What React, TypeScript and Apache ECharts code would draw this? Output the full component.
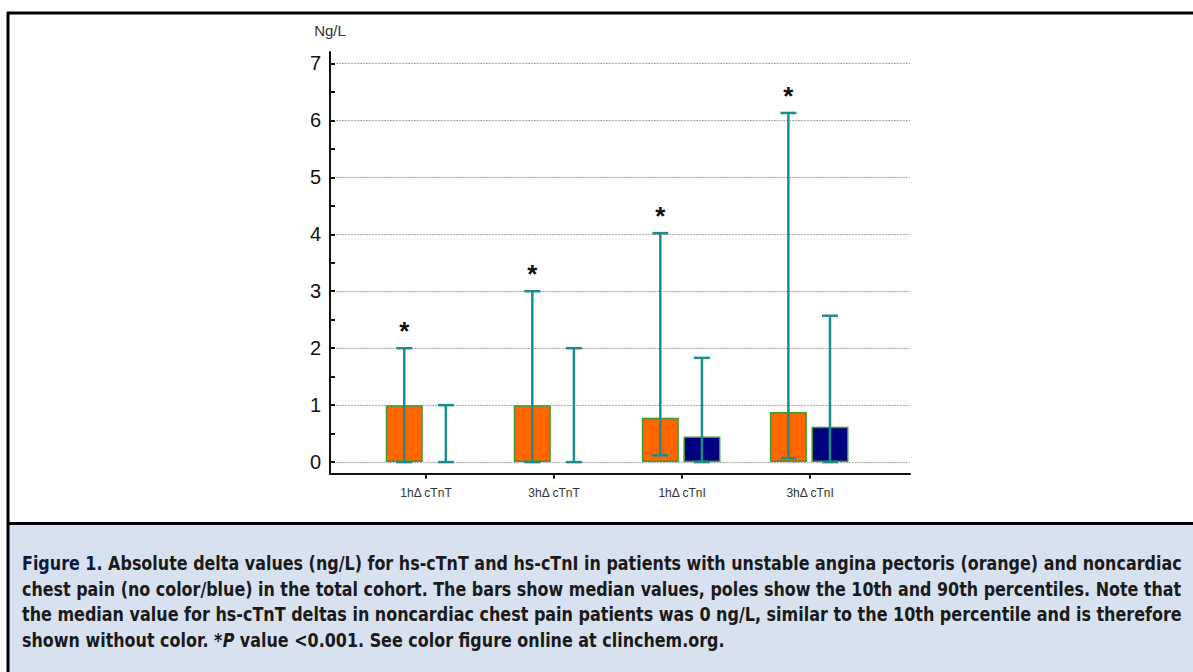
import React, { useEffect, useRef } from "react";
import * as echarts from "echarts";

// ---- data ----
const categories = ["1hΔ cTnT", "3hΔ cTnT", "1hΔ cTnI", "3hΔ cTnI"];
// unstable angina pectoris (orange)
const uapMedian = [1.0, 1.0, 0.78, 0.88];
const uapP10 = [0, 0, 0.12, 0.07];
const uapP90 = [2.0, 3.0, 4.02, 6.13];
// noncardiac chest pain (blue / no colour)
const ncpMedian = [0, 0, 0.45, 0.62];
const ncpP10 = [0, 0, 0, 0];
const ncpP90 = [1.0, 2.0, 1.83, 2.57];
const significant = [true, true, true, true];
const yTickLabels = [0, 1, 2, 3, 4, 5, 6, 7];
const yMinorTicks = [0, 0.5, 1, 1.5, 2, 2.5, 3, 3.5, 4, 4.5, 5, 5.5, 6, 6.5, 7];
const yName = "Ng/L";

const captionLines = [
  "{b|Figure 1.} Absolute delta values (ng/L) for hs-cTnT and hs-cTnI in patients with unstable angina pectoris (orange) and noncardiac",
  "chest pain (no color/blue) in the total cohort. The bars show median values, poles show the 10th and 90th percentiles. Note that",
  "the median value for hs-cTnT deltas in noncardiac chest pain patients was 0 ng/L, similar to the 10th percentile and is therefore",
  "shown without color. *{i|P} value <0.001. See color figure online at clinchem.org.",
];
const captionJustified = [true, true, true, false];

// category slot positions on the x value axis
const catPos = categories.map((_, i) => i + 0.75);
const uapOffset = -0.17;
const ncpOffset = 0.155;

export default function App() {
  const ref = useRef<HTMLDivElement>(null);
  useEffect(() => {
    document.body.style.margin = "0";
    const chart = echarts.init(ref.current!, undefined, { renderer: "svg" });
    const whiskerData: any[] = [];
    categories.forEach((_, i) => {
      whiskerData.push([catPos[i] + uapOffset, uapP10[i], uapP90[i], significant[i] ? 1 : 0]);
      whiskerData.push([catPos[i] + ncpOffset, ncpP10[i], ncpP90[i], 0]);
    });
    const teal = "#1f8c8c";
    const captionFamily = '"DejaVu Sans", sans-serif';
    const captionSize = 19;
    const captionWidth = 1161;
    // measure caption lines to mimic the justified condensed type
    const ctx = document.createElement("canvas").getContext("2d")!;
    ctx.font = `bold ${captionSize}px "DejaVu Sans"`;
    const widths = captionLines.map((t) => ctx.measureText(t.replace(/\{\w\|([^}]*)\}/g, "$1")).width);
    const baseScale = captionWidth / widths[0];
    const scales = captionLines.map((_, k) => (captionJustified[k] ? captionWidth / widths[k] : baseScale));

    chart.setOption({
      animation: false,
      grid: { left: 330, right: 283, top: 52, bottom: 198.5, containLabel: false },
      xAxis: {
        type: "value",
        min: 0,
        max: 4.53,
        axisLine: { show: true, onZero: false, lineStyle: { color: "#111", width: 2 } },
        axisTick: { show: true, length: 5, lineStyle: { color: "#111", width: 2 }, customValues: catPos },
        axisLabel: {
          customValues: catPos,
          formatter: (v: number) => categories[Math.round(v - 0.75)] ?? "",
          fontSize: 12,
          color: "#333",
          margin: 13,
          fontFamily: "Liberation Sans, sans-serif",
        },
        splitLine: { show: false },
      },
      yAxis: {
        type: "value",
        min: -0.2,
        max: 7.2,
        name: yName,
        nameLocation: "end",
        nameGap: 14,
        nameTextStyle: { fontSize: 15, color: "#333", align: "center", fontFamily: "Liberation Sans, sans-serif" },
        axisLine: { show: true, onZero: false, lineStyle: { color: "#111", width: 2 } },
        axisTick: { show: true, inside: true, length: 5, lineStyle: { color: "#111", width: 2 }, customValues: yMinorTicks },
        axisLabel: {
          customValues: yTickLabels,
          fontSize: 20,
          color: "#111",
          margin: 9,
          fontFamily: "Liberation Sans, sans-serif",
        },
        splitLine: { show: false },
      },
      series: [
        {
          name: "Unstable angina pectoris",
          type: "bar",
          barWidth: 37,
          barGap: "-100%",
          data: categories.map((_, i) => [catPos[i] + uapOffset, uapMedian[i]]),
          itemStyle: { color: "#ff6600", borderColor: "#3f9a2f", borderWidth: 1.5 },
          markLine: {
            silent: true,
            symbol: ["none", "none"],
            label: { show: false },
            lineStyle: { color: "#a8a8a8", width: 1, type: [2, 1] },
            data: yTickLabels.map((v) => ({ yAxis: v })),
            z: 0,
          },
          z: 2,
        },
        {
          name: "Noncardiac chest pain",
          type: "bar",
          barWidth: 37,
          barGap: "-100%",
          data: categories.map((_, i) => [catPos[i] + ncpOffset, ncpMedian[i] > 0 ? ncpMedian[i] : "-"]),
          itemStyle: { color: "#000080", borderColor: "#3f9a2f", borderWidth: 1.5 },
          z: 2,
        },
        {
          type: "custom",
          z: 5,
          encode: { x: 0, y: [1, 2] },
          data: whiskerData,
          renderItem: (params: any, api: any) => {
            const x = api.value(0);
            const lo = api.coord([x, api.value(1)]);
            const hi = api.coord([x, api.value(2)]);
            const half = 8;
            const ls = { stroke: teal, lineWidth: 2.5 };
            const children: any[] = [
              { type: "line", shape: { x1: lo[0], y1: lo[1], x2: hi[0], y2: hi[1] }, style: ls },
              { type: "line", shape: { x1: hi[0] - half, y1: hi[1], x2: hi[0] + half, y2: hi[1] }, style: ls },
              { type: "line", shape: { x1: lo[0] - half, y1: lo[1], x2: lo[0] + half, y2: lo[1] }, style: ls },
            ];
            if (api.value(3) === 1) {
              children.push({
                type: "text",
                style: {
                  text: "*",
                  x: hi[0],
                  y: hi[1] - 17,
                  align: "center",
                  verticalAlign: "middle",
                  fontSize: 26,
                  fontWeight: "bold",
                  fill: "#111",
                  fontFamily: "Liberation Sans, sans-serif",
                },
              });
            }
            return { type: "group", children };
          },
        },
      ],
      graphic: [
        { type: "rect", shape: { x: 9, y: 525, width: 1184, height: 147 }, style: { fill: "#d8e1ef" }, silent: true },
        { type: "line", shape: { x1: 7, y1: 13, x2: 1193, y2: 13 }, style: { stroke: "#000", lineWidth: 3 } },
        { type: "line", shape: { x1: 8, y1: 12, x2: 8, y2: 672 }, style: { stroke: "#000", lineWidth: 3 } },
        { type: "line", shape: { x1: 7, y1: 523.5, x2: 1193, y2: 523.5 }, style: { stroke: "#000", lineWidth: 3 } },
        ...captionLines.map((t, k) => ({
          type: "text",
          x: 22,
          y: 564 + k * 25.5,
          scaleX: scales[k],
          style: {
            text: t,
            fontFamily: captionFamily,
            fontSize: captionSize,
            fontWeight: "bold",
            fill: "#1a1a1a",
            verticalAlign: "middle",
            rich: {
              b: { fontFamily: captionFamily, fontSize: captionSize, fontWeight: "bold", fill: "#0b1a3a" },
              i: { fontFamily: captionFamily, fontSize: captionSize, fontWeight: "bold", fontStyle: "italic", fill: "#1a1a1a" },
            },
          },
        })),
      ],
    });
    return () => chart.dispose();
  }, []);
  return <div ref={ref} style={{ width: 1193, height: 672 }} />;
}
